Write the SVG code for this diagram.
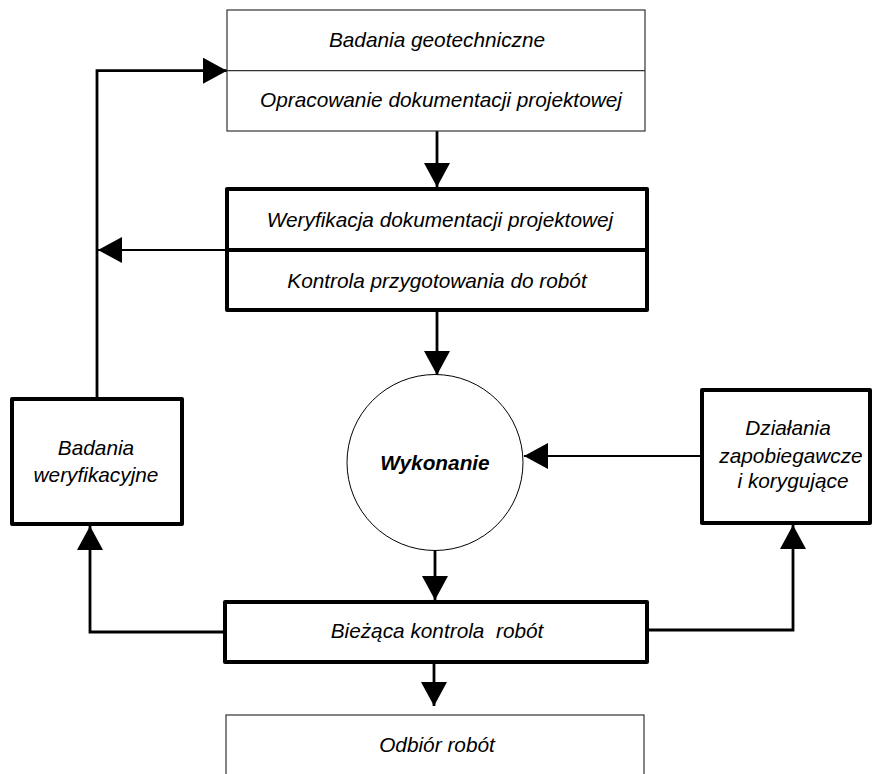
<svg xmlns="http://www.w3.org/2000/svg" width="872" height="774" viewBox="0 0 872 774">
  <style>
    .thin { fill: #ffffff; stroke: #333333; stroke-width: 1.2; }
    .thick { fill: #ffffff; stroke: #000000; stroke-width: 4; stroke-linejoin: round; }
    .div-thin { stroke: #333333; stroke-width: 1.2; }
    .div-thick { stroke: #000000; stroke-width: 4; }
    .lbl { font-family: "Liberation Sans", Arial, sans-serif; font-size: 20.8px; font-style: italic; fill: #000000; text-anchor: middle; white-space: pre; }
    .bold { font-weight: bold; }
    .conn { fill: none; stroke: #000000; stroke-width: 2.8; }
    .conn-thin { fill: none; stroke: #000000; stroke-width: 2; }
  </style>
  <defs>
    <marker id="arrow" markerUnits="userSpaceOnUse" viewBox="0 0 24 26" markerWidth="24" markerHeight="26" refX="24" refY="13" orient="auto">
      <path d="M0,0 L24,13 L0,26 Z" fill="#000000"/>
    </marker>
  </defs>

  <rect width="872" height="774" fill="#ffffff"/>

  <!-- connectors -->
  <g id="connectors">
    <line class="conn" x1="437" y1="131" x2="437" y2="187" marker-end="url(#arrow)"/>
    <line class="conn" x1="437" y1="312" x2="437" y2="375" marker-end="url(#arrow)"/>
    <line class="conn" x1="435" y1="550" x2="435" y2="600" marker-end="url(#arrow)"/>
    <line class="conn" x1="434" y1="664" x2="434" y2="706" marker-end="url(#arrow)"/>
    <line class="conn-thin" x1="702" y1="456" x2="524" y2="456" marker-end="url(#arrow)"/>
    <polyline class="conn" points="649,630 793,630 793,525" marker-end="url(#arrow)"/>
    <polyline class="conn" points="223,632 90,632 90,526" marker-end="url(#arrow)"/>
    <polyline class="conn" points="97,397 97,70.7 227,70.7" marker-end="url(#arrow)"/>
    <line class="conn-thin" x1="225" y1="250" x2="98" y2="250" marker-end="url(#arrow)"/>
  </g>

  <!-- design stage -->
  <g id="design">
    <rect class="thin" x="227" y="10" width="418" height="121"/>
    <line class="div-thin" x1="227" y1="70.7" x2="645" y2="70.7"/>
    <text class="lbl" x="437" y="47">Badania geotechniczne</text>
    <text class="lbl" x="441" y="107">Opracowanie dokumentacji projektowej</text>
  </g>

  <!-- verification before works -->
  <g id="verification">
    <rect class="thick" x="227" y="189" width="420" height="121"/>
    <line class="div-thick" x1="227" y1="250" x2="647" y2="250"/>
    <text class="lbl" x="440" y="227">Weryfikacja dokumentacji projektowej</text>
    <text class="lbl" x="437" y="288">Kontrola przygotowania do robót</text>
  </g>

  <!-- execution -->
  <g id="execution">
    <circle cx="435" cy="462.5" r="88" fill="#ffffff" stroke="#000000" stroke-width="1"/>
    <text class="lbl bold" x="435" y="470">Wykonanie</text>
  </g>

  <!-- verification tests -->
  <g id="tests">
    <rect class="thick" x="12" y="399" width="170" height="125"/>
    <text class="lbl" x="96" y="455">Badania</text>
    <text class="lbl" x="96" y="482">weryfikacyjne</text>
  </g>

  <!-- preventive and corrective actions -->
  <g id="actions">
    <rect class="thick" x="702" y="390" width="168" height="133"/>
    <text class="lbl" x="788" y="435">Działania</text>
    <text class="lbl" x="791" y="463">zapobiegawcze</text>
    <text class="lbl" x="793" y="488">i korygujące</text>
  </g>

  <!-- ongoing control -->
  <g id="control">
    <rect class="thick" x="225" y="602" width="422" height="60"/>
    <text class="lbl" x="437" y="638" xml:space="preserve">Bieżąca kontrola  robót</text>
  </g>

  <!-- acceptance -->
  <g id="acceptance">
    <rect class="thin" x="226" y="715" width="418" height="80"/>
    <text class="lbl" x="437" y="752">Odbiór robót</text>
  </g>
</svg>
